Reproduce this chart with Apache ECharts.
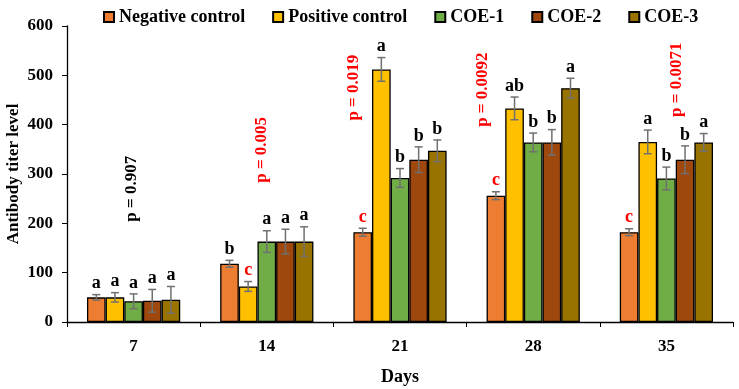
<!DOCTYPE html>
<html>
<head>
<meta charset="utf-8">
<script src="https://cdn.jsdelivr.net/npm/echarts@6/dist/echarts.min.js"></script>
<style>
  html, body { margin: 0; padding: 0; background: #fff; }
  #main { width: 739px; height: 389px; }
</style>
</head>
<body>
<div id="main"></div>
<script>
// days post vaccination
var days = ['7', '14', '21', '28', '35'];
var groupNames = ['Negative control', 'Positive control', 'COE-1', 'COE-2', 'COE-3'];
var groupColors = ['#ED7D31', '#FFC000', '#70AD47', '#9E480E', '#997300'];

// mean titers
var negCtrl = [50, 118, 182, 256, 182];
var posCtrl = [50, 72, 512, 433, 365];
var coe1 = [42, 163, 292, 364, 291];
var coe2 = [43, 163, 329, 364, 329];
var coe3 = [45, 163, 347, 474, 364];

// standard errors
var negErr = [5.5, 7, 8, 8, 7];
var posErr = [9.5, 10, 24, 23, 24];
var coe1Err = [15, 22, 19, 19, 23];
var coe2Err = [23, 25, 26, 26, 28];
var coe3Err = [27, 30, 22, 20, 18];

// significance letters
var negLetters = ['a', 'b', 'c', 'c', 'c'];
var posLetters = ['a', 'c', 'a', 'ab', 'a'];
var coe1Letters = ['a', 'a', 'b', 'b', 'b'];
var coe2Letters = ['a', 'a', 'b', 'b', 'b'];
var coe3Letters = ['a', 'a', 'b', 'a', 'a'];

// p values per day
var pValues = ['0.907', '0.005', '0.019', '0.0092', '0.0071'];

var means = [negCtrl, posCtrl, coe1, coe2, coe3];
var errs = [negErr, posErr, coe1Err, coe2Err, coe3Err];
var letters = [negLetters, posLetters, coe1Letters, coe2Letters, coe3Letters];

// where the rotated p labels sit (y value of center, x shift in px)
var pY = [270, 349, 475, 471, 491];
var pDx = [-2, -5, -46, -51, 10];

var FONT = '"Liberation Serif", "Times New Roman", serif';
var gapRatio = 0.3;

var chart = echarts.init(document.getElementById('main'));

var series = [];
groupNames.forEach(function (name, k) {
  series.push({
    name: name,
    type: 'bar',
    data: means[k],
    barGap: '0%',
    barCategoryGap: '30%',
    itemStyle: { color: groupColors[k], borderColor: '#000', borderWidth: 1.3 },
    z: 2
  });
});

groupNames.forEach(function (name, k) {
  var d = means[k].map(function (v, i) { return [i, v, errs[k][i]]; });
  series.push({
    name: name + ' err',
    type: 'custom',
    z: 5,
    silent: true,
    data: d,
    renderItem: function (params, api) {
      var i = api.value(0), m = api.value(1), e = api.value(2);
      var band = api.size([1, 0])[0];
      var bw = band * (1 - gapRatio) / groupNames.length;
      var cx = api.coord([i, m])[0] + (k - 2) * bw;
      var yTop = api.coord([i, m + e])[1];
      var yBot = api.coord([i, m - e])[1];
      var cap = 4;
      var lineStyle = { stroke: '#707070', lineWidth: 1.5 };
      var letter = letters[k][i];
      return {
        type: 'group',
        children: [
          { type: 'line', shape: { x1: cx, y1: yTop, x2: cx, y2: yBot }, style: lineStyle },
          { type: 'line', shape: { x1: cx - cap, y1: yTop, x2: cx + cap, y2: yTop }, style: lineStyle },
          { type: 'line', shape: { x1: cx - cap, y1: yBot, x2: cx + cap, y2: yBot }, style: lineStyle },
          {
            type: 'text', x: cx, y: yTop - 2,
            style: {
              text: letter, fill: letter === 'c' ? '#FF0000' : '#000',
              font: 'bold 18px ' + FONT,
              align: 'center', verticalAlign: 'bottom',
              textAlign: 'center', textVerticalAlign: 'bottom'
            }
          }
        ]
      };
    }
  });
});

// p value labels
series.push({
  name: 'p',
  type: 'custom',
  z: 6,
  silent: true,
  data: pValues.map(function (p, i) { return [i, pY[i]]; }),
  renderItem: function (params, api) {
    var i = api.value(0);
    var pt = api.coord([i, api.value(1)]);
    var p = pValues[i];
    return {
      type: 'text', x: pt[0] + pDx[i], y: pt[1], rotation: Math.PI / 2,
      style: {
        text: 'p = ' + p, fill: parseFloat(p) < 0.05 ? '#FF0000' : '#000',
        font: 'bold 17px ' + FONT,
        align: 'center', verticalAlign: 'middle',
        textAlign: 'center', textVerticalAlign: 'middle'
      }
    };
  }
});

var option = {
  animation: false,
  textStyle: { fontFamily: FONT },
  legend: {
    data: groupNames,
    top: 3,
    left: 98,
    itemWidth: 10,
    itemHeight: 10,
    itemGap: 27,
    icon: 'rect',
    textStyle: { fontFamily: FONT, fontWeight: 'bold', fontSize: 18, color: '#000' }
  },
  grid: { left: 67, right: 6, top: 26, bottom: 67, containLabel: false, outerBoundsMode: 'none' },
  xAxis: {
    type: 'category',
    data: days,
    name: 'Days',
    nameLocation: 'middle',
    nameGap: 46,
    nameTextStyle: { fontFamily: FONT, fontWeight: 'bold', fontSize: 18, color: '#000' },
    axisLine: { lineStyle: { color: '#000', width: 1.3 } },
    axisTick: { show: true, length: 5, lineStyle: { color: '#000' } },
    axisLabel: { fontFamily: FONT, fontWeight: 'bold', fontSize: 17, color: '#000', margin: 16 }
  },
  yAxis: {
    type: 'value',
    min: 0,
    max: 600,
    interval: 100,
    name: 'Antibody titer level',
    nameLocation: 'middle',
    nameGap: 45,
    nameMoveOverlap: false,
    nameTextStyle: { fontFamily: FONT, fontWeight: 'bold', fontSize: 17, color: '#000' },
    axisLine: { show: true, lineStyle: { color: '#000', width: 1.3 } },
    axisTick: { show: true, length: 5, lineStyle: { color: '#000' } },
    splitLine: { show: false },
    axisLabel: { fontFamily: FONT, fontWeight: 'bold', fontSize: 17, color: '#000', margin: 14 }
  },
  series: series
};

chart.setOption(option);
</script>
</body>
</html>
